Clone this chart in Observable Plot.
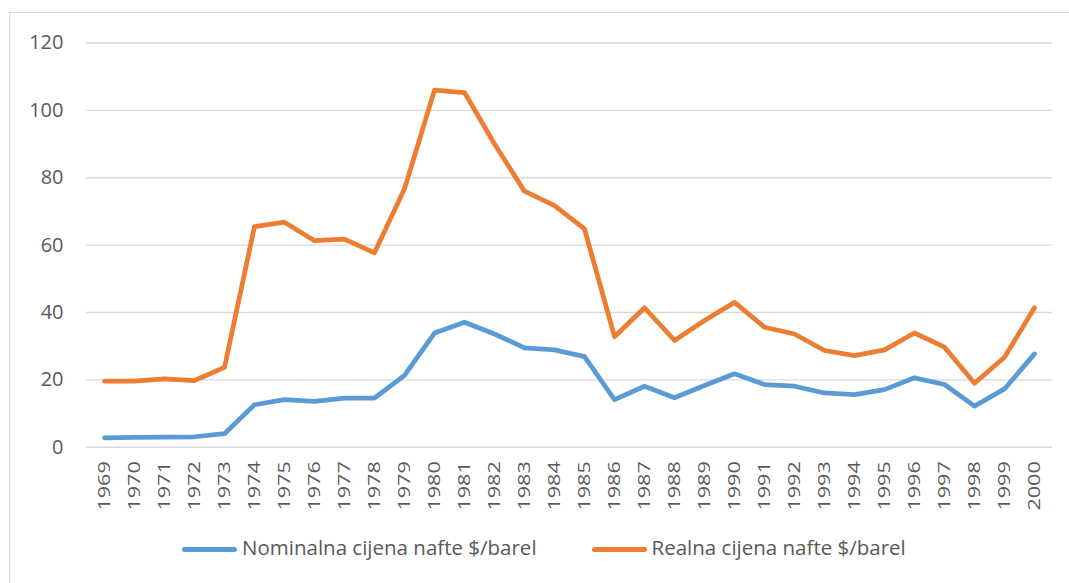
<!DOCTYPE html>
<html>
<head>
<meta charset="utf-8">
<script src="https://cdn.jsdelivr.net/npm/d3@7"></script>
<script src="https://cdn.jsdelivr.net/npm/@observablehq/plot@0.6"></script>
<style>
  html, body { margin: 0; padding: 0; background: #fff; overflow: hidden; }
  #page { position: relative; width: 1069px; height: 583px; overflow: hidden; font-family: "Open Sans", sans-serif; }
  #border { position: absolute; left: 9px; top: 12px; width: 1200px; height: 700px; border-left: 1px solid #d9d9d9; border-top: 1px solid #d9d9d9; }
  #chart { position: absolute; left: 0; top: 0; }
  #legend { position: absolute; left: 182px; top: 533px; display: flex; align-items: center; font-size: 20.5px; color: #595959; white-space: nowrap; }
  .item { display: flex; align-items: center; }
  .item + .item { margin-left: 55px; }
  .sw { width: 55px; height: 5px; border-radius: 3px; margin-right: 5px; margin-top: 4px; }
</style>
</head>
<body>
<div id="page"><div id="border"></div><div id="chart"></div><div id="legend"></div></div>
<script>
const years = ["1969","1970","1971","1972","1973","1974","1975","1976","1977","1978","1979","1980","1981","1982","1983","1984","1985","1986","1987","1988","1989","1990","1991","1992","1993","1994","1995","1996","1997","1998","1999","2000"];
const nominal = [2.8,2.9,3.0,3.1,4.0,12.6,14.1,13.6,14.6,14.6,21.3,33.9,37.1,33.6,29.5,28.9,26.9,14.1,18.1,14.7,18.3,21.8,18.6,18.1,16.1,15.6,17.1,20.6,18.6,12.2,17.3,27.7];
const real = [19.6,19.6,20.3,19.8,23.7,65.5,66.8,61.3,61.8,57.7,76.7,106.0,105.3,90.0,76.0,71.7,64.8,32.8,41.4,31.7,37.6,43.0,35.6,33.6,28.7,27.2,28.9,33.9,29.7,19.0,26.7,41.4];
const seriesNames = ["Nominalna cijena nafte $/barel", "Realna cijena nafte $/barel"];
const seriesColors = ["#5b9bd5", "#ed7d31"];
const yTicks = [0,20,40,60,80,100,120];

const rows = [];
years.forEach((y, i) => {
  rows.push({year: y, value: nominal[i], series: seriesNames[0]});
  rows.push({year: y, value: real[i], series: seriesNames[1]});
});

const chart = Plot.plot({
  width: 1069,
  height: 525,
  marginLeft: 86,
  marginRight: 17,
  marginTop: 42.5,
  marginBottom: 78.3,
  style: {fontFamily: '"Open Sans", sans-serif', color: "#595959", background: "transparent", overflow: "visible"},
  x: {type: "point", domain: years, padding: 0.5, label: null},
  y: {domain: [0, 120], label: null},
  color: {domain: seriesNames, range: seriesColors},
  marks: [
    Plot.ruleY(yTicks, {stroke: "#d9d9d9", strokeWidth: 1.4}),
    Plot.axisY(yTicks, {tickSize: 0, tickPadding: 23, fontSize: 20, fill: "#595959", label: null}),
    Plot.axisX({tickSize: 0, tickRotate: -90, tickPadding: 14, fontSize: 17, fill: "#595959", label: null}),
    Plot.line(rows, {x: "year", y: "value", z: "series", stroke: "series", strokeWidth: 4.75, strokeLinejoin: "round", strokeLinecap: "round"})
  ]
});
document.getElementById("chart").appendChild(chart);

// stretch rotated year labels along their length, as in the reference
d3.select(chart).selectAll('g[aria-label="x-axis tick label"] text').each(function() {
  const t = this.getAttribute("transform") || "";
  this.setAttribute("transform", t + " scale(1.27,1)");
});

const legend = document.getElementById("legend");
seriesNames.forEach((n, i) => {
  const it = document.createElement("div");
  it.className = "item";
  const sw = document.createElement("div");
  sw.className = "sw";
  sw.style.background = seriesColors[i];
  const t = document.createElement("span");
  t.textContent = n;
  it.appendChild(sw); it.appendChild(t);
  legend.appendChild(it);
});
</script>
</body>
</html>
